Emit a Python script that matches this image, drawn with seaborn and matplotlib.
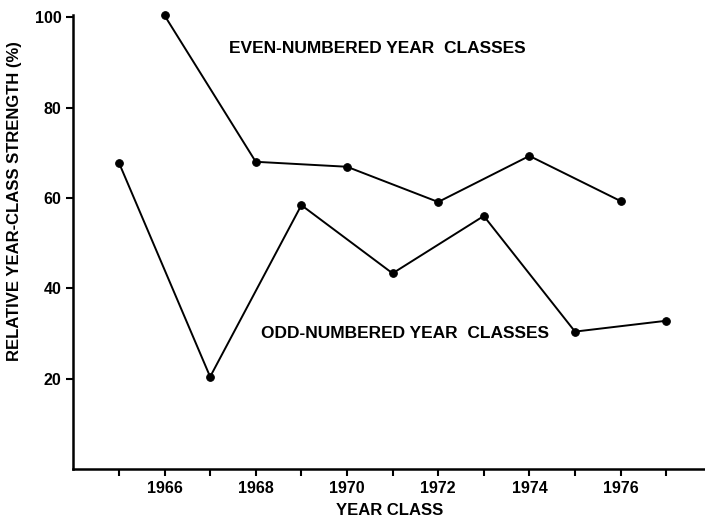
import pandas as pd
import matplotlib.pyplot as plt
import seaborn as sns

# Year-class strength values
even_years = [1966, 1968, 1970, 1972, 1974, 1976]
even_strength = [100.4, 68.0, 66.9, 59.1, 69.3, 59.3]
odd_years = [1965, 1967, 1969, 1971, 1973, 1975, 1977]
odd_strength = [67.8, 20.4, 58.4, 43.3, 56.0, 30.4, 32.8]
year_ticks = list(range(1965, 1978))
year_labels = [str(y) if y % 2 == 0 else "" for y in year_ticks]
y_ticks = [20, 40, 60, 80, 100]

even_df = pd.DataFrame({"year": even_years, "strength": even_strength})
odd_df = pd.DataFrame({"year": odd_years, "strength": odd_strength})

sns.set_style("ticks")
plt.rcParams["font.family"] = ["Liberation Sans", "DejaVu Sans"]
plt.rcParams["font.weight"] = "bold"
plt.rcParams["text.color"] = "black"
plt.rcParams["axes.labelcolor"] = "black"
plt.rcParams["xtick.color"] = "black"
plt.rcParams["ytick.color"] = "black"

fig = plt.figure(figsize=(7.05, 5.17), dpi=100)
ax = fig.add_axes([0.104, 0.093, 0.896, 0.878])

for df in (even_df, odd_df):
    sns.lineplot(data=df, x="year", y="strength", ax=ax, color="black",
                 linewidth=1.4, marker="o", markersize=5.5,
                 markeredgecolor="black", clip_on=False)

ax.set_xlim(1964.0, 1977.85)
ax.set_ylim(0, 100.5)
ax.set_xticks(year_ticks)
ax.set_xticklabels(year_labels, fontsize=11.5, fontweight="bold")
ax.set_yticks(y_ticks)
ax.set_yticklabels([str(v) for v in y_ticks], fontsize=11.5, fontweight="bold")
ax.tick_params(axis="both", direction="out", length=5, width=1.5, color="black")

for side in ("top", "right"):
    ax.spines[side].set_visible(False)
for side in ("left", "bottom"):
    ax.spines[side].set_linewidth(1.8)
    ax.spines[side].set_color("black")

ax.set_xlabel("YEAR CLASS", fontsize=12, fontweight="bold")
ax.set_ylabel("RELATIVE YEAR-CLASS STRENGTH (%)", fontsize=12, fontweight="bold")
ax.yaxis.set_label_coords(-0.082, 0.59)
ax.xaxis.set_label_coords(0.5, -0.075)

ax.text(1967.42, 93.1, "EVEN-NUMBERED YEAR  CLASSES", fontsize=12.5,
        fontweight="bold", va="center", ha="left")
ax.text(1968.12, 29.9, "ODD-NUMBERED YEAR  CLASSES", fontsize=12.5,
        fontweight="bold", va="center", ha="left")

plt.savefig("out.png", dpi=100)
